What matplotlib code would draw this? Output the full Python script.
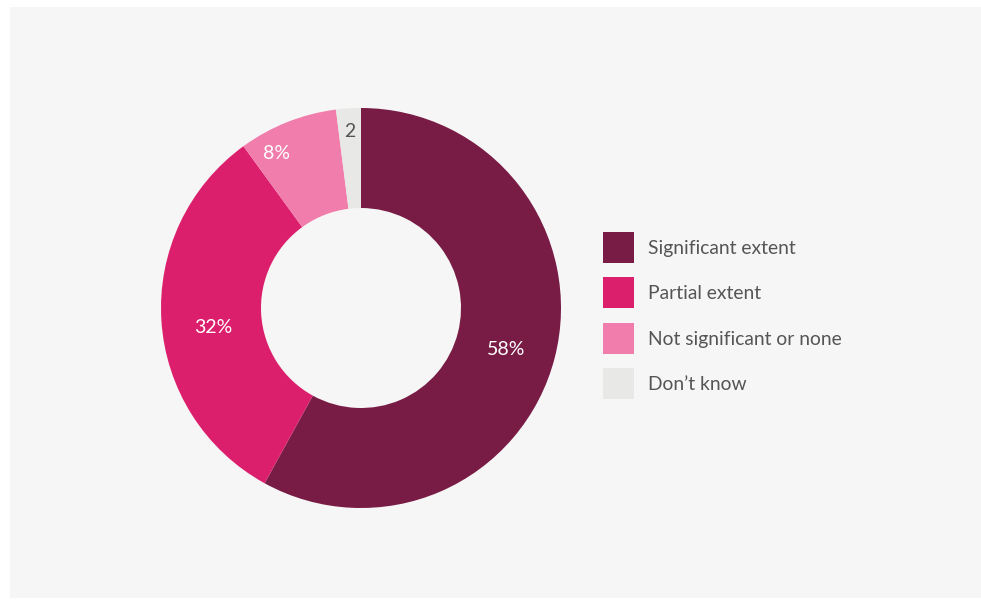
import matplotlib
matplotlib.use("Agg")
import matplotlib.pyplot as plt
import numpy as np

categories = ["Significant extent", "Partial extent", "Not significant or none", "Don\u2019t know"]
values = [58, 32, 8, 2]
labels = ["58%", "32%", "8%", "2"]
colors = ["#781b45", "#db1f6c", "#f07dab", "#e8e8e6"]
label_colors = ["white", "white", "white", "#555555"]

W, H = 981, 600
fig = plt.figure(figsize=(W / 100, H / 100), dpi=100)
fig.patch.set_facecolor("white")

# background panel
bg = fig.add_axes([10 / W, 2 / H, (W - 10) / W, (598 - 7) / H])
bg.set_facecolor("#f6f6f6")
bg.set_xticks([]); bg.set_yticks([])
for s in bg.spines.values():
    s.set_visible(False)

cx, cy, r = 361, 308, 200
ax = fig.add_axes([(cx - r) / W, (H - cy - r) / H, 2 * r / W, 2 * r / H])
ax.patch.set_alpha(0)

wedges, _ = ax.pie(values, colors=colors, startangle=90, counterclock=False, radius=1,
                   wedgeprops=dict(width=0.5, edgecolor="none"))
ax.set_xlim(-1, 1); ax.set_ylim(-1, 1)
ax.set_aspect("auto")
ax.axis("off")

# label positions: radius and angle adjustments per slice
label_r = [0.753, 0.743, 0.878, 0.884]
label_dang = [-1.4, 4.1, 7.1, 0.0]
total = sum(values)
cum = 0
for v, lab, lc, lr, da in zip(values, labels, label_colors, label_r, label_dang):
    mid = (cum + v / 2) / total * 360
    ang = np.deg2rad(90 - mid + da)
    cum += v
    ax.text(lr * np.cos(ang), lr * np.sin(ang), lab, color=lc, ha="center", va="center",
            fontsize=14, family=["Lato", "DejaVu Sans"])

# legend
lg = fig.add_axes([0, 0, 1, 1])
lg.set_xlim(0, W); lg.set_ylim(H, 0)
lg.axis("off")
lg.patch.set_alpha(0)
y0, dy = 247.5, 45.3
for i, (c, name) in enumerate(zip(colors, categories)):
    y = y0 + i * dy
    lg.add_patch(plt.Rectangle((603, y - 15.5), 31, 31, color=c, lw=0))
    lg.text(648, y + 1, name, va="center", ha="left", fontsize=13.9, color="#555555",
            family=["Lato", "DejaVu Sans"])

fig.savefig("out.png", dpi=100, facecolor="white")
